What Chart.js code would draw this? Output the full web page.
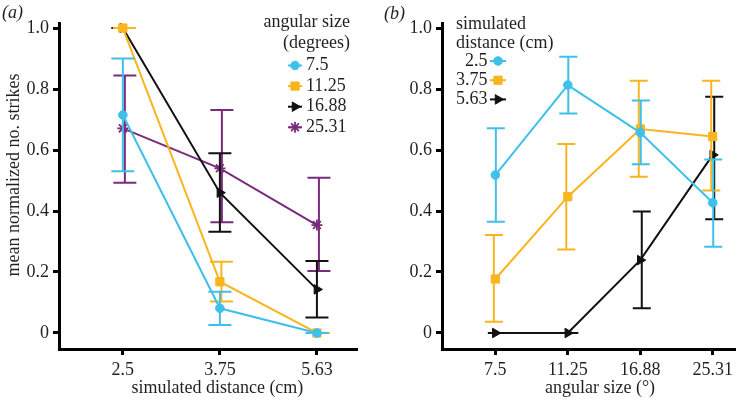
<!DOCTYPE html>
<html><head><meta charset="utf-8">
<script src="https://cdn.jsdelivr.net/npm/chart.js@4/dist/chart.umd.min.js"></script>
<style>
html,body{margin:0;padding:0;background:#fff;}
#wrap{position:relative;width:742px;height:401px;overflow:hidden;background:#fff;}
.panel{position:absolute;top:0;width:371px;height:401px;}
.plabel{position:absolute;font:italic 18px "Liberation Serif";color:#231f20;line-height:20px;}
</style></head><body>
<div id="wrap">
<div class="panel" style="left:0"><canvas id="cA" width="371" height="401"></canvas></div>
<div class="panel" style="left:371px"><canvas id="cB" width="371" height="401"></canvas></div>
<div class="plabel" style="left:2px;top:2px">(a)</div>
<div class="plabel" style="left:384px;top:3px">(b)</div>
</div>
<script>
// ---------- data ----------
const distanceLabels = ['2.5', '3.75', '5.63'];
const angleLabels = ['7.5', '11.25', '16.88', '25.31'];
const yTickValues = [0, 0.2, 0.4, 0.6, 0.8, 1.0];

// panel (a): series = angular size, x = simulated distance
const angleSeriesNames = ['7.5', '11.25', '16.88', '25.31'];
const ang75 = [0.715, 0.081, 0.0];
const ang75Low = [0.53, 0.026, 0.0];
const ang75High = [0.90, 0.135, 0.0];
const ang1125 = [1.0, 0.168, 0.0];
const ang1125Low = [1.0, 0.103, 0.0];
const ang1125High = [1.0, 0.234, 0.0];
const ang1688 = [1.0, 0.46, 0.143];
const ang1688Low = [1.0, 0.332, 0.051];
const ang1688High = [1.0, 0.589, 0.236];
const ang2531 = [0.671, 0.54, 0.354];
const ang2531Low = [0.493, 0.363, 0.203];
const ang2531High = [0.844, 0.731, 0.509];

// panel (b): series = simulated distance, x = angular size
const distSeriesNames = ['2.5', '3.75', '5.63'];
const dist25 = [0.518, 0.813, 0.657, 0.427];
const dist25Low = [0.365, 0.72, 0.553, 0.283];
const dist25High = [0.671, 0.906, 0.762, 0.569];
const dist375 = [0.177, 0.447, 0.669, 0.644];
const dist375Low = [0.037, 0.274, 0.512, 0.467];
const dist375High = [0.321, 0.62, 0.827, 0.827];
const dist563 = [0.0, 0.0, 0.239, 0.584];
const dist563Low = [0.0, 0.0, 0.081, 0.373];
const dist563High = [0.0, 0.0, 0.398, 0.775];

// ---------- styles ----------
const CYAN = '#3fc0ea', ORANGE = '#f8b51e', BLACK = '#111111', PURPLE = '#7a2b7c';
const TXT = '#231f20';
const FONT = 'Liberation Serif';

function pts(vals) { return vals.map((v, i) => ({ x: i, y: v })); }

function series(label, vals, lo, hi, color, style, radius, extra) {
  return Object.assign({
    label: label,
    data: pts(vals),
    errLow: lo, errHigh: hi,
    borderColor: color, backgroundColor: color,
    pointBackgroundColor: color, pointBorderColor: color,
    pointStyle: style, pointRadius: radius, pointHoverRadius: radius,
    pointBorderWidth: 1,
    borderWidth: 2, tension: 0, fill: false, clip: false
  }, extra || {});
}

const errorBars = {
  id: 'errorBars',
  afterDatasetDraw(chart, args) {
    const ds = chart.data.datasets[args.index];
    if (!ds.errLow) return;
    const xs = chart.scales.x, ys = chart.scales.y, ctx = chart.ctx;
    const hw = ds.capHalf || 10, sh = ds.errShift || 0;
    ctx.save();
    ctx.strokeStyle = ds.borderColor;
    ctx.lineWidth = 2;
    ds.data.forEach((p, i) => {
      const x = xs.getPixelForValue(p.x) + sh;
      const yl = ys.getPixelForValue(ds.errLow[i]);
      const yh = ys.getPixelForValue(ds.errHigh[i]);
      ctx.beginPath();
      ctx.moveTo(x, yl); ctx.lineTo(x, yh);
      ctx.moveTo(x - hw, yl); ctx.lineTo(x + hw, yl);
      ctx.moveTo(x - hw, yh); ctx.lineTo(x + hw, yh);
      ctx.stroke();
    });
    ctx.restore();
  }
};

// axis titles centred on the category span (as in the reference)
const axisTitles = {
  id: 'axisTitles',
  afterDraw(chart, args, o) {
    const ctx = chart.ctx, xs = chart.scales.x;
    ctx.save();
    ctx.font = '18px "' + FONT + '"';
    ctx.fillStyle = TXT;
    ctx.textBaseline = 'middle';
    ctx.textAlign = 'center';
    const n = xs.ticks.length;
    const cx = (xs.getPixelForValue(xs.ticks[0].value) + xs.getPixelForValue(xs.ticks[n - 1].value)) / 2 + o.xShift;
    ctx.fillText(o.xText, cx, o.xTitleY);
    if (o.yText) {
      ctx.translate(o.yTitleX, o.yTitleY);
      ctx.rotate(-Math.PI / 2);
      ctx.fillText(o.yText, 0, 0);
    }
    ctx.restore();
  }
};

const sideLegend = {
  id: 'sideLegend',
  afterDraw(chart, args, o) {
    const ctx = chart.ctx;
    ctx.save();
    ctx.font = '18px "' + FONT + '"';
    ctx.fillStyle = TXT;
    ctx.textBaseline = 'middle';
    ctx.textAlign = o.titleAlign;
    o.title.forEach((t, i) => ctx.fillText(t, o.titleX, o.titleY + i * o.titleStep));
    chart.data.datasets.forEach((ds, i) => {
      const y = o.itemY + i * o.itemStep;
      ctx.strokeStyle = ds.borderColor; ctx.lineWidth = 2;
      ctx.beginPath(); ctx.moveTo(o.lineX0, y); ctx.lineTo(o.lineX1, y); ctx.stroke();
      ctx.fillStyle = ds.pointBackgroundColor; ctx.strokeStyle = ds.borderColor;
      ctx.lineWidth = ds.pointBorderWidth;
      Chart.helpers.drawPoint(ctx, { pointStyle: ds.pointStyle, radius: ds.pointRadius,
        rotation: ds.pointRotation || 0, borderWidth: ds.pointBorderWidth },
        (o.lineX0 + o.lineX1) / 2, y);
      ctx.fillStyle = TXT;
      ctx.textAlign = o.textAlign;
      ctx.fillText(ds.label, o.textX, y);
    });
    ctx.restore();
  }
};

function makeOptions(labels, xmin, xmax, yWidth, padRight, titleOpts, legendOpts) {
  return {
    responsive: false,
    animation: false,
    events: [],
    layout: { padding: { top: 23, right: padRight, left: 0, bottom: 0 } },
    plugins: { legend: { display: false }, tooltip: { enabled: false }, sideLegend: legendOpts, axisTitles: titleOpts },
    scales: {
      x: {
        type: 'linear', min: xmin, max: xmax,
        afterBuildTicks: s => { s.ticks = labels.map((_, i) => ({ value: i })); },
        afterFit: s => { s.height = 52; },
        ticks: { callback: v => labels[v], color: TXT, font: { family: FONT, size: 18 }, padding: 4, maxRotation: 0, autoSkip: false },
        grid: { display: true, drawOnChartArea: false, drawTicks: true, tickLength: 6, tickWidth: 3, tickColor: '#000' },
        border: { display: true, width: 3, color: '#000' },
        title: { display: false }
      },
      y: {
        type: 'linear', min: -0.0525, max: 1.0165,
        afterBuildTicks: s => { s.ticks = yTickValues.map(v => ({ value: v })); },
        afterFit: s => { s.width = yWidth; },
        ticks: { callback: v => (v === 0 ? '0' : v.toFixed(1)), color: TXT, font: { family: FONT, size: 18 }, padding: 4 },
        grid: { display: true, drawOnChartArea: false, drawTicks: true, tickLength: 6, tickWidth: 3, tickColor: '#000' },
        border: { display: true, width: 3, color: '#000' },
        title: { display: false }
      }
    }
  };
}

new Chart(document.getElementById('cA'), {
  type: 'line',
  data: {
    datasets: [
      series(angleSeriesNames[0], ang75, ang75Low, ang75High, CYAN, 'circle', 4.3, { capHalf: 11.5 }),
      series(angleSeriesNames[1], ang1125, ang1125Low, ang1125High, ORANGE, 'rect', 5.8, { capHalf: 11.5, errShift: 1.5 }),
      series(angleSeriesNames[2], ang1688, ang1688Low, ang1688High, BLACK, 'triangle', 5.5, { capHalf: 11.5, pointRotation: 90 }),
      series(angleSeriesNames[3], ang2531, ang2531Low, ang2531High, PURPLE, 'star', 5.5, { capHalf: 11.5, errShift: 2, pointBorderWidth: 1.8 })
    ]
  },
  options: makeOptions(distanceLabels, -0.658, 2.413, 59, 14,
    { xText: 'simulated distance (cm)', xTitleY: 388, xShift: -2.5, yText: 'mean normalized no. strikes', yTitleX: 14, yTitleY: 175 },
    { title: ['angular size', '(degrees)'], titleAlign: 'right', titleX: 350, titleY: 22, titleStep: 21.5,
      itemY: 65.5, itemStep: 20.6, lineX0: 288, lineX1: 302, textX: 306, textAlign: 'left' }),
  plugins: [errorBars, axisTitles, sideLegend]
});

new Chart(document.getElementById('cB'), {
  type: 'line',
  data: {
    datasets: [
      series(distSeriesNames[0], dist25, dist25Low, dist25High, CYAN, 'circle', 4.3, { capHalf: 9, errShift: 0.5 }),
      series(distSeriesNames[1], dist375, dist375Low, dist375High, ORANGE, 'rect', 5.8, { capHalf: 9, errShift: -1.5 }),
      series(distSeriesNames[2], dist563, dist563Low, dist563High, BLACK, 'triangle', 5.5, { capHalf: 9, errShift: 1.5, pointRotation: 90 })
    ]
  },
  options: makeOptions(angleLabels, -0.736, 3.31, 71, 0,
    { xText: 'angular size (°)', xTitleY: 388, xShift: -4, yText: '' },
    { title: ['simulated', 'distance (cm)'], titleAlign: 'left', titleX: 85, titleY: 24, titleStep: 19.5,
      itemY: 61, itemStep: 19.2, lineX0: 119, lineX1: 135, textX: 116.5, textAlign: 'right' }),
  plugins: [errorBars, axisTitles, sideLegend]
});
</script>
</body></html>
